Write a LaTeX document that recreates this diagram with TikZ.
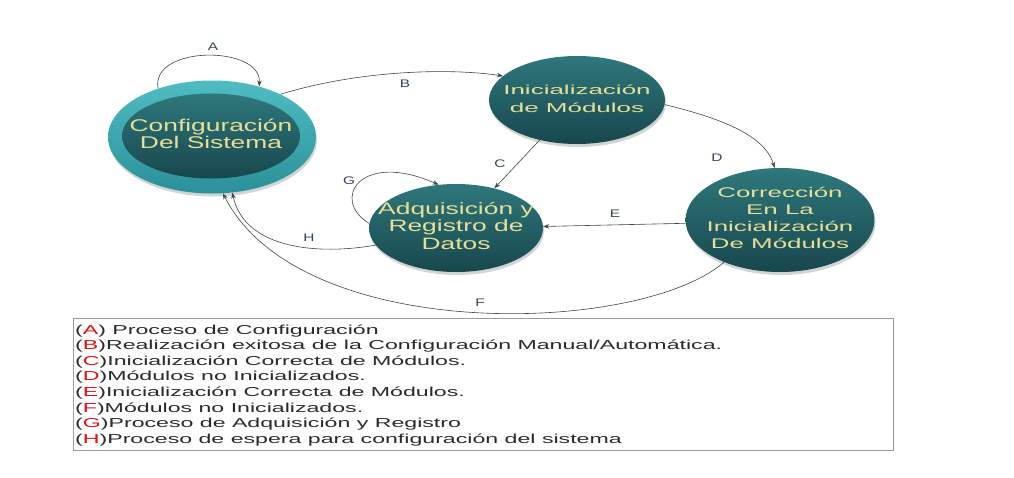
\documentclass[tikz,border=0pt]{standalone}
\usepackage{fontspec}
\setmainfont{Liberation Sans}
\usepackage{graphicx}
\usetikzlibrary{shapes.geometric,shadows,arrows.meta}
\definecolor{tealtop}{HTML}{2E787C}
\definecolor{tealbot}{HTML}{17474D}
\definecolor{ringtop}{HTML}{4FBCC3}
\definecolor{ringbot}{HTML}{2A9099}
\definecolor{nodetxt}{HTML}{E8DE96}
\definecolor{edgecol}{HTML}{3A4650}
\definecolor{lblcol}{HTML}{34455A}
\definecolor{legred}{HTML}{E01010}
\definecolor{legtext}{HTML}{2A2A2A}
\definecolor{boxcol}{HTML}{9A9A9A}
\newcommand{\ntx}[4]{\makebox[0pt]{\scalebox{#1}[1]{\fontsize{#2}{#3}\selectfont\begin{tabular}{@{}c@{}}#4\end{tabular}}}}
\newcommand{\legl}[2]{\scalebox{1.78}[1]{\fontsize{13}{13}\selectfont(\textcolor{legred}{#1})#2}}
\newcommand{\edgelbl}[1]{\scalebox{1.4}[1]{\fontsize{11}{11}\selectfont #1}}
\begin{document}
\begin{tikzpicture}[x=1pt,y=1pt,
  state/.style={ellipse,inner sep=0pt,draw=none,top color=tealtop,bottom color=tealbot,text=nodetxt,
    drop shadow={opacity=0.35,shadow xshift=1pt,shadow yshift=-3pt}},
  innerstate/.style={ellipse,inner sep=0pt,draw=none,top color=tealtop,bottom color=tealbot,text=nodetxt},
  edge/.style={draw=edgecol,line width=0.6pt,-{Stealth[length=6pt,width=4.5pt]}},
  elbl/.style={text=lblcol,inner sep=0pt},
  legline/.style={anchor=base west,inner sep=0pt,text=legtext}]
\useasboundingbox (0,0) rectangle (1014,-477);

% states
\node[state,minimum width=208,minimum height=113,top color=ringtop,bottom color=ringbot] (cfg) at (212,-137) {};
\node[innerstate,minimum width=178,minimum height=85] (cfgin) at (211,-136)
  {\ntx{1.55}{17}{17}{Configuración\\Del Sistema}};
\node[state,minimum width=176,minimum height=88] (ini) at (577,-100)
  {\ntx{2.0}{13}{18}{Inicialización\\de Módulos}};
\node[state,minimum width=174,minimum height=88] (adq) at (456,-228)
  {\ntx{1.6}{16.5}{17.5}{Adquisición y\\Registro de\\Datos}};
\node[state,minimum width=189,minimum height=104] (cor) at (780,-220)
  {\ntx{1.85}{14}{17}{Corrección\\En La\\Inicialización\\De Módulos}};

% connectors
\draw[edge] (cfg.138) .. controls (150,-45) and (262,-45) .. (cfg.47);
\draw[edge] (cfg.32) .. controls (360,-70) and (450,-68) .. (ini.162);
\draw[edge] (ini.-133) -- (adq.46);
\draw[edge] (ini.-3) .. controls (720,-118) and (765,-135) .. (cor.96);
\draw[edge] (cor.182) -- (adq.1);
\draw[edge] (cor.217) .. controls (640,-335) and (300,-345) .. (cfg.-79);
\draw[edge] (adq.177) .. controls (330,-200) and (360,-150) .. (adq.112);
\draw[edge] (adq.192) .. controls (320,-255) and (245,-250) .. (cfg.-70);

% connector labels
\node[elbl] (la) at (213,-47) {\edgelbl{A}};
\node[elbl] (lb) at (405,-84) {\edgelbl{B}};
\node[elbl] (lc) at (500,-164) {\edgelbl{C}};
\node[elbl] (ld) at (717,-158) {\edgelbl{D}};
\node[elbl] (le) at (615,-214) {\edgelbl{E}};
\node[elbl] (lf) at (480,-303) {\edgelbl{F}};
\node[elbl] (lg) at (349,-181) {\edgelbl{G}};
\node[elbl] (lh) at (309,-238) {\edgelbl{H}};

% legend
\node[draw=boxcol,line width=0.8pt,minimum width=820,minimum height=132,anchor=north west,inner sep=0pt] (legend) at (73,-318) {};
\node[legline] (l1) at (75,-334) {\legl{A}{ Proceso de Configuración}};
\node[legline] (l2) at (75,-349.6) {\legl{B}{Realización exitosa de la Configuración Manual/Automática.}};
\node[legline] (l3) at (75,-365.2) {\legl{C}{Inicialización Correcta de Módulos.}};
\node[legline] (l4) at (75,-380.8) {\legl{D}{Módulos no Inicializados.}};
\node[legline] (l5) at (75,-396.4) {\legl{E}{Inicialización Correcta de Módulos.}};
\node[legline] (l6) at (75,-412.0) {\legl{F}{Módulos no Inicializados.}};
\node[legline] (l7) at (75,-427.6) {\legl{G}{Proceso de Adquisición y Registro}};
\node[legline] (l8) at (75,-443.2) {\legl{H}{Proceso de espera para configuración del sistema}};
\end{tikzpicture}
\end{document}
